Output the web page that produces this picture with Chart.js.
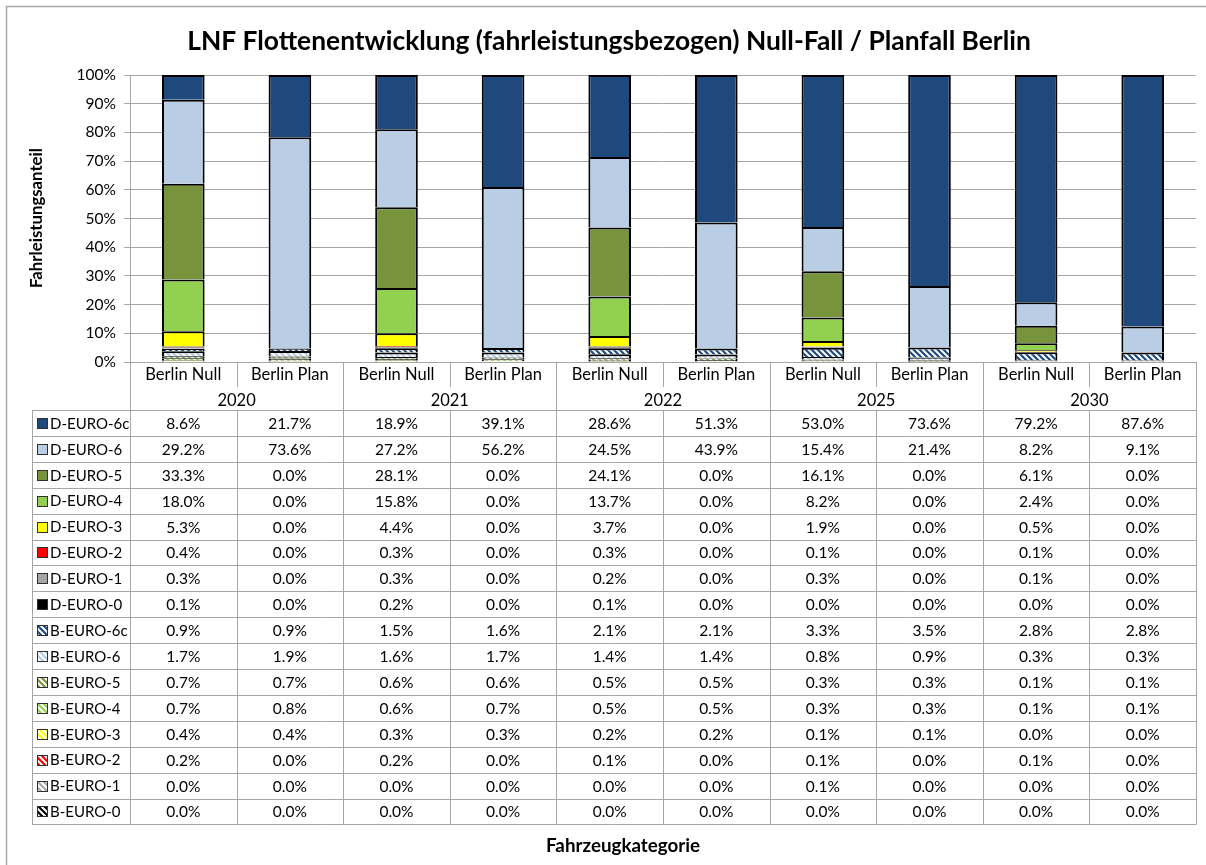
<!DOCTYPE html>
<html>
<head>
<meta charset="utf-8">
<script src="https://cdn.jsdelivr.net/npm/chart.js@4.4.0/dist/chart.umd.min.js"></script>
<style>
  html, body { margin: 0; padding: 0; background: #fff; }
  canvas { display: block; }
</style>
</head>
<body>
<canvas id="graficoFlotte" width="1206" height="865"></canvas>
<script>
// Daten (Anteile in %, Reihenfolge wie in der Datentabelle)
const years = ["2020", "2021", "2022", "2025", "2030"];
const variants = ["Berlin Null", "Berlin Plan"];
const categories = years.flatMap(y => variants.map(v => v + " " + y));

const seriesNames = ["D-EURO-6c", "D-EURO-6", "D-EURO-5", "D-EURO-4", "D-EURO-3", "D-EURO-2", "D-EURO-1", "D-EURO-0",
                     "B-EURO-6c", "B-EURO-6", "B-EURO-5", "B-EURO-4", "B-EURO-3", "B-EURO-2", "B-EURO-1", "B-EURO-0"];

const dEuro6c = [8.6, 21.7, 18.9, 39.1, 28.6, 51.3, 53.0, 73.6, 79.2, 87.6];
const dEuro6  = [29.2, 73.6, 27.2, 56.2, 24.5, 43.9, 15.4, 21.4, 8.2, 9.1];
const dEuro5  = [33.3, 0.0, 28.1, 0.0, 24.1, 0.0, 16.1, 0.0, 6.1, 0.0];
const dEuro4  = [18.0, 0.0, 15.8, 0.0, 13.7, 0.0, 8.2, 0.0, 2.4, 0.0];
const dEuro3  = [5.3, 0.0, 4.4, 0.0, 3.7, 0.0, 1.9, 0.0, 0.5, 0.0];
const dEuro2  = [0.4, 0.0, 0.3, 0.0, 0.3, 0.0, 0.1, 0.0, 0.1, 0.0];
const dEuro1  = [0.3, 0.0, 0.3, 0.0, 0.2, 0.0, 0.3, 0.0, 0.1, 0.0];
const dEuro0  = [0.1, 0.0, 0.2, 0.0, 0.1, 0.0, 0.0, 0.0, 0.0, 0.0];
const bEuro6c = [0.9, 0.9, 1.5, 1.6, 2.1, 2.1, 3.3, 3.5, 2.8, 2.8];
const bEuro6  = [1.7, 1.9, 1.6, 1.7, 1.4, 1.4, 0.8, 0.9, 0.3, 0.3];
const bEuro5  = [0.7, 0.7, 0.6, 0.6, 0.5, 0.5, 0.3, 0.3, 0.1, 0.1];
const bEuro4  = [0.7, 0.8, 0.6, 0.7, 0.5, 0.5, 0.3, 0.3, 0.1, 0.1];
const bEuro3  = [0.4, 0.4, 0.3, 0.3, 0.2, 0.2, 0.1, 0.1, 0.0, 0.0];
const bEuro2  = [0.2, 0.0, 0.2, 0.0, 0.1, 0.0, 0.1, 0.0, 0.1, 0.0];
const bEuro1  = [0.0, 0.0, 0.0, 0.0, 0.0, 0.0, 0.1, 0.0, 0.0, 0.0];
const bEuro0  = [0.0, 0.0, 0.0, 0.0, 0.0, 0.0, 0.0, 0.0, 0.0, 0.0];

const seriesValues = [dEuro6c, dEuro6, dEuro5, dEuro4, dEuro3, dEuro2, dEuro1, dEuro0,
                      bEuro6c, bEuro6, bEuro5, bEuro4, bEuro3, bEuro2, bEuro1, bEuro0];

// Farben (B-EURO = schraffiert)
const seriesColors = ["#1F497D", "#B9CDE5", "#77933C", "#92D050", "#FFFF00", "#FF0000", "#A6A6A6", "#000000",
                      "#1F497D", "#B9CDE5", "#77933C", "#92D050", "#FFFF00", "#FF0000", "#A6A6A6", "#000000"];

const FONT = "Lato, 'Liberation Sans', sans-serif";
const LINE = "#A6A6A6";

// Schraffur wie "weite Diagonale nach unten"
function schraffur(farbe) {
    const c = document.createElement("canvas");
    c.width = 6; c.height = 6;
    const g = c.getContext("2d");
    g.fillStyle = "#fff";
    g.fillRect(0, 0, 6, 6);
    g.strokeStyle = farbe;
    g.lineWidth = 2.2;
    g.beginPath();
    [-6, 0, 6].forEach(x0 => { g.moveTo(x0 - 1, -1); g.lineTo(x0 + 7, 7); });
    g.stroke();
    return g.createPattern(c, "repeat");
}

const fills = seriesNames.map((name, i) => name.startsWith("B-") ? schraffur(seriesColors[i]) : seriesColors[i]);

// 100%-Stapel: jede Spalte auf ihre Summe normieren
const totals = categories.map((_, c) => seriesValues.reduce((s, arr) => s + arr[c], 0));

// Unterster Stapel = letzte Tabellenzeile
const datasets = seriesNames.map((name, i) => ({
    label: name,
    data: seriesValues[i].map((v, c) => v / totals[c] * 100),
    backgroundColor: fills[i],
    borderColor: "#000",
    borderWidth: 2,
    categoryPercentage: 1.0,
    barPercentage: 0.4
})).reverse();

function fitFont(ctx, text, width, weight) {
    ctx.font = weight + " 20px " + FONT;
    const size = 20 * width / ctx.measureText(text).width;
    return weight + " " + size.toFixed(2) + "px " + FONT;
}

const rahmenPlugin = {
    id: "rahmen",
    beforeDraw(chart) {
        const ctx = chart.ctx;
        ctx.save();
        ctx.fillStyle = "#fff";
        ctx.fillRect(0, 0, chart.width, chart.height);
        ctx.strokeStyle = LINE;
        ctx.lineWidth = 1.5;
        ctx.strokeRect(6.5, 6.5, chart.width + 10, chart.height + 10);
        ctx.restore();
    }
};

const tabellePlugin = {
    id: "tabelle",
    afterDraw(chart) {
        const ctx = chart.ctx;
        const a = chart.chartArea;
        const n = categories.length;
        const w = (a.right - a.left) / n;
        const yAchse = a.bottom;
        const yJahr = yAchse + 25;
        const yTab = yAchse + 48;
        const h = 25.9;
        const yEnde = yTab + h * seriesNames.length;
        const xTab = 32;

        ctx.save();
        // Linien
        ctx.strokeStyle = LINE;
        ctx.lineWidth = 1;
        ctx.beginPath();
        for (let i = 0; i <= n; i++) {
            const x = Math.round(a.left + i * w) + 0.5;
            if (i % 2 === 0) {
                ctx.moveTo(x, yAchse); ctx.lineTo(x, yEnde);
            } else {
                ctx.moveTo(x, yAchse); ctx.lineTo(x, yJahr);
                ctx.moveTo(x, yTab); ctx.lineTo(x, yEnde);
            }
        }
        for (let r = 0; r <= seriesNames.length; r++) {
            const y = Math.round(yTab + r * h) + 0.5;
            ctx.moveTo(xTab, y); ctx.lineTo(a.right + 0.5, y);
        }
        ctx.moveTo(xTab + 0.5, yTab); ctx.lineTo(xTab + 0.5, yEnde);
        ctx.stroke();

        // Kategorien
        ctx.fillStyle = "#000";
        ctx.textAlign = "center";
        ctx.textBaseline = "middle";
        ctx.font = "16.5px " + FONT;
        categories.forEach((_, i) => {
            ctx.fillText(variants[i % 2], a.left + (i + 0.5) * w, yAchse + 13);
        });
        years.forEach((y, j) => {
            ctx.fillText(y, a.left + (2 * j + 1) * w, yJahr + 13.5);
        });

        // Datenzeilen
        seriesNames.forEach((name, r) => {
            const yc = yTab + (r + 0.5) * h;
            ctx.fillStyle = fills[r];
            ctx.fillRect(37, Math.round(yc - 5), 11, 11);
            ctx.strokeStyle = "#303030";
            ctx.lineWidth = 1;
            ctx.strokeRect(37.5, Math.round(yc - 5) + 0.5, 10, 10);
            ctx.fillStyle = "#000";
            ctx.textAlign = "left";
            ctx.font = "15px " + FONT;
            ctx.fillText(name, 50, yc + 1);
            ctx.textAlign = "center";
            ctx.font = "15.5px " + FONT;
            seriesValues[r].forEach((v, c) => {
                ctx.fillText(v.toFixed(1) + "%", a.left + (c + 0.5) * w, yc + 1);
            });
        });

        // Titel
        const titel = "LNF Flottenentwicklung (fahrleistungsbezogen) Null-Fall / Planfall Berlin";
        ctx.font = fitFont(ctx, titel, 844, "bold");
        ctx.fillText(titel, 609, 41);

        ctx.font = fitFont(ctx, "Fahrzeugkategorie", 154, "bold");
        ctx.fillText("Fahrzeugkategorie", 623, 846);

        ctx.translate(37, 218);
        ctx.rotate(-Math.PI / 2);
        ctx.font = fitFont(ctx, "Fahrleistungsanteil", 140, "bold");
        ctx.fillText("Fahrleistungsanteil", 0, 0);
        ctx.restore();
    }
};

const chart = new Chart(document.getElementById("graficoFlotte"), {
    type: "bar",
    data: { labels: categories, datasets: datasets },
    options: {
        responsive: false,
        devicePixelRatio: 1,
        animation: false,
        layout: { padding: { left: 6, top: 75, right: 10, bottom: 503 } },
        plugins: {
            legend: { display: false },
            title: { display: false },
            tooltip: { enabled: false }
        },
        scales: {
            x: { stacked: true, display: false },
            y: {
                stacked: true,
                min: 0,
                max: 100,
                ticks: {
                    stepSize: 10,
                    callback: v => v + "%",
                    color: "#000",
                    font: { family: FONT, size: 15.5 },
                    padding: 8
                },
                grid: { color: LINE, tickLength: 6 },
                border: { color: LINE },
                afterFit(s) {
                    s.width = 124;
                    s.paddingTop = 0;
                    s.paddingBottom = 0;
                }
            }
        }
    },
    plugins: [rahmenPlugin, tabellePlugin]
});
</script>
</body>
</html>
